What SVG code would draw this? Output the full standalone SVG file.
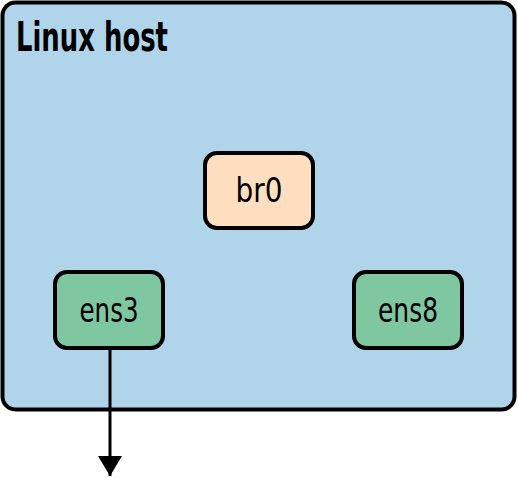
<svg xmlns="http://www.w3.org/2000/svg" width="518" height="478" viewBox="0 0 518 478">
<defs>
<style>
.box{stroke:#000;stroke-width:4}
.lbl{font-family:"DejaVu Sans Condensed","DejaVu Sans","Liberation Sans",sans-serif;font-stretch:condensed;font-size:34px;fill:#000;text-anchor:middle}
.title{font-family:"DejaVu Sans Condensed","DejaVu Sans","Liberation Sans",sans-serif;font-stretch:condensed;font-size:40px;font-weight:bold;fill:#000}
</style>
<marker id="arr" viewBox="0 0 20 24" refX="20" refY="12" markerWidth="20" markerHeight="24" markerUnits="userSpaceOnUse" orient="auto">
<path d="M0,0 L20,12 L0,24 Z" fill="#000"/>
</marker>
</defs>
<g id="host">
<rect class="box" x="2.5" y="2.5" width="512" height="407" rx="13" fill="#b0d4ea"/>
<text class="title" x="16" y="51" textLength="152" lengthAdjust="spacingAndGlyphs">Linux host</text>
</g>
<g id="br0">
<rect class="box" x="205" y="153" width="108" height="75" rx="12" fill="#ffdfbf"/>
<text class="lbl" x="259" y="202" textLength="47" lengthAdjust="spacingAndGlyphs">br0</text>
</g>
<g id="ens3">
<rect class="box" x="55" y="272" width="108" height="76" rx="12" fill="#7ec7a0"/>
<text class="lbl" x="109" y="322" textLength="59" lengthAdjust="spacingAndGlyphs">ens3</text>
</g>
<g id="ens8">
<rect class="box" x="354" y="272" width="108" height="76" rx="12" fill="#7ec7a0"/>
<text class="lbl" x="408" y="322" textLength="60" lengthAdjust="spacingAndGlyphs">ens8</text>
</g>
<g id="connectors">
<line x1="110" y1="348" x2="110" y2="476" stroke="#000" stroke-width="3" marker-end="url(#arr)"/>
</g>
</svg>
